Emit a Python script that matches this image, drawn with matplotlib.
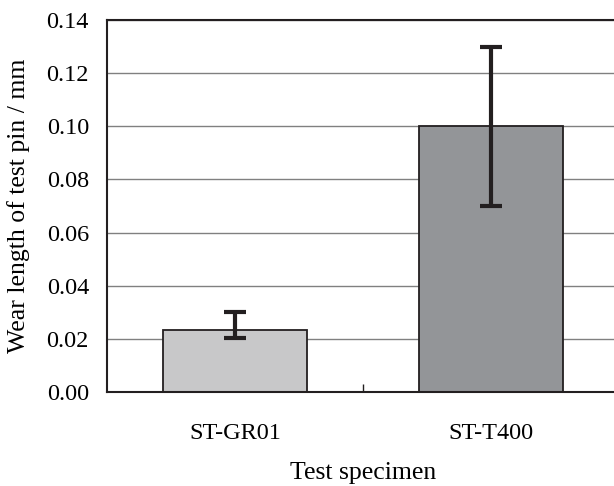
import matplotlib
matplotlib.use('Agg')
import matplotlib.pyplot as plt

categories = ['ST-GR01', 'ST-T400']
wear = [0.0233, 0.100]
err_low = [0.0030, 0.030]
err_high = [0.0067, 0.030]
colors = ['#c8c8c9', '#939598']
yticks = [0.00, 0.02, 0.04, 0.06, 0.08, 0.10, 0.12, 0.14]

plt.rcParams['font.family'] = ['Liberation Serif', 'DejaVu Serif']
dark = '#231f20'

fig = plt.figure(figsize=(6.14, 4.86), dpi=100)
ax = fig.add_axes([107 / 614, 94 / 486, 512 / 614, 372 / 486])

x = list(range(len(categories)))
ax.set_axisbelow(True)
ax.yaxis.grid(True, color='#808080', linewidth=1.0)
ax.bar(x, wear, width=0.56, color=colors, edgecolor=dark, linewidth=1.3, zorder=2)
ax.errorbar(x, wear, yerr=[err_low, err_high], fmt='none', ecolor=dark,
            elinewidth=3, capsize=8, capthick=3, zorder=3)

ax.set_xlim(-0.5, len(categories) - 0.5)
ax.set_ylim(0, 0.14)
ax.set_yticks(yticks)
ax.set_yticklabels([f'{v:.2f}' for v in yticks])
ax.set_xticks(x)
ax.set_xticklabels(categories)
ax.set_xticks([0.5], minor=True)
ax.tick_params(axis='x', which='major', length=0, pad=22, labelsize=17.5)
ax.tick_params(axis='x', which='minor', direction='in', length=6, width=1, color=dark)
ax.tick_params(axis='y', length=0, pad=13, labelsize=17.5)

for s in ax.spines.values():
    s.set_color(dark)
    s.set_linewidth(1.5)

ax.set_xlabel('Test specimen', fontsize=18.5, labelpad=13)
ax.set_ylabel('Wear length of test pin / mm', fontsize=18.5, labelpad=12)

fig.savefig('out.png', dpi=100)
